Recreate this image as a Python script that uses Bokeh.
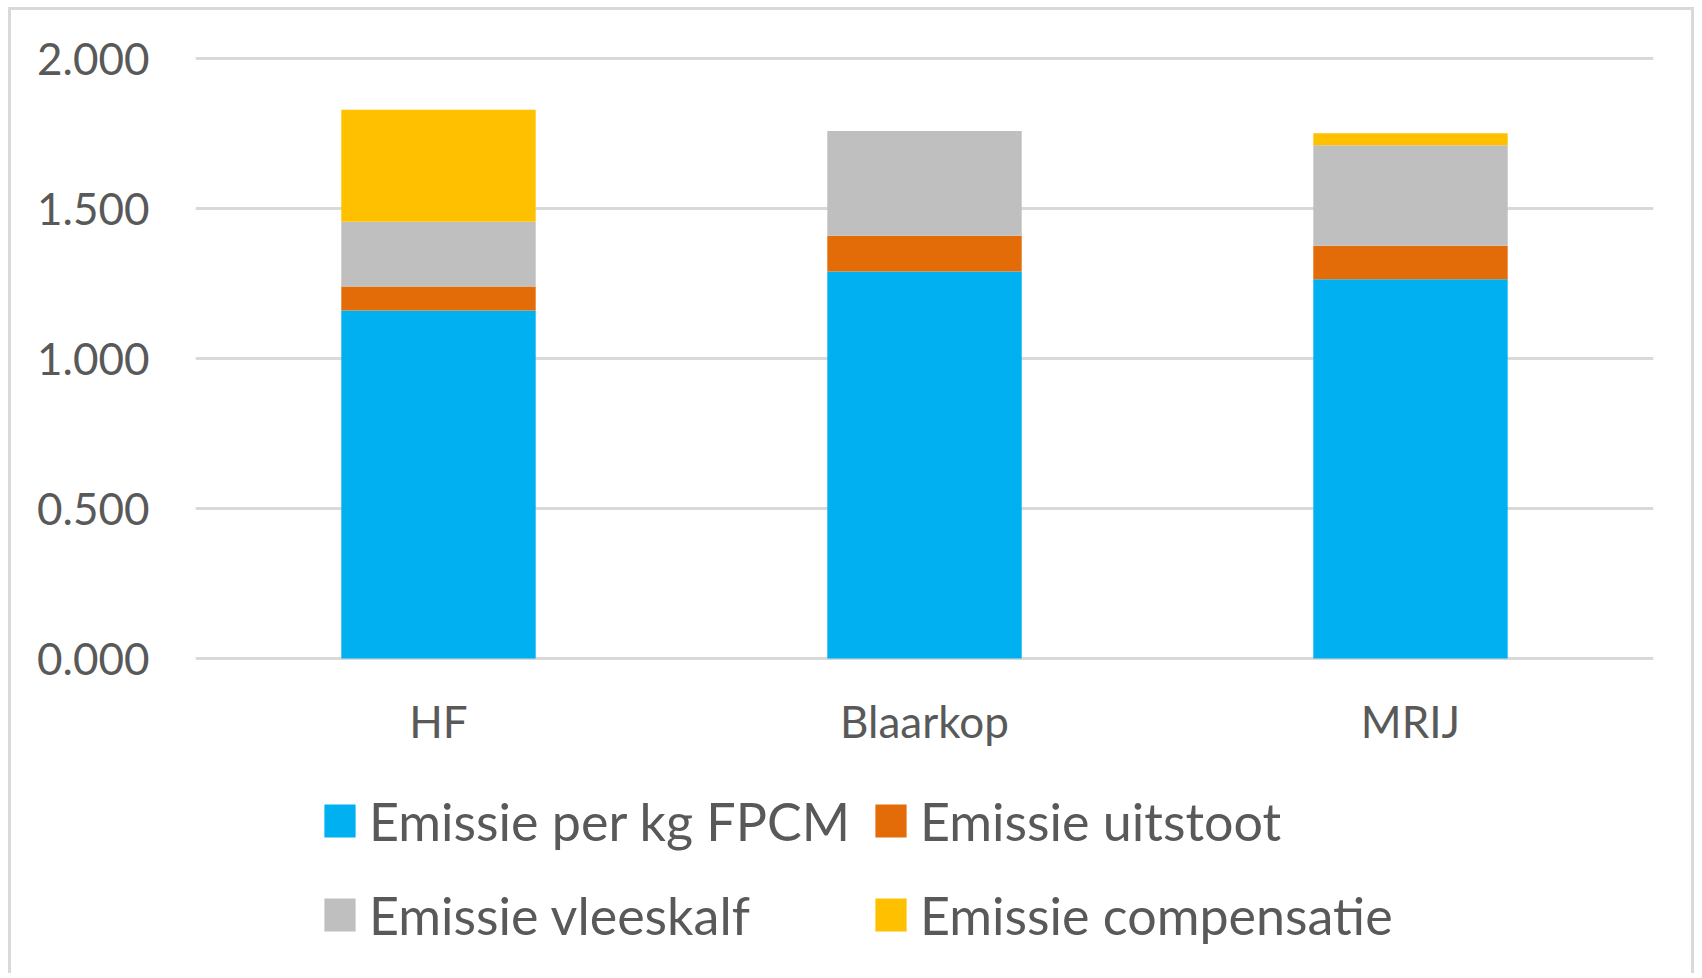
from bokeh.plotting import figure
from bokeh.models import (ColumnDataSource, Range1d, FixedTicker, NumeralTickFormatter,
                          Legend, LegendItem)
from bokeh.core.properties import value
from bokeh.embed import file_html
from bokeh.resources import INLINE

categories = ["HF", "Blaarkop", "MRIJ"]
emissie_fpcm = [1.160, 1.290, 1.264]
emissie_uitstoot = [0.080, 0.119, 0.112]
emissie_vleeskalf = [0.216, 0.349, 0.335]
emissie_compensatie = [0.373, 0.000, 0.040]
series_labels = ["Emissie per kg FPCM", "Emissie uitstoot",
                 "Emissie vleeskalf", "Emissie compensatie"]
y_ticks = [0.0, 0.5, 1.0, 1.5, 2.0]

colors = ["#00B0F0", "#E36C09", "#BFBFBF", "#FFC000"]
keys = ["fpcm", "uitstoot", "vleeskalf", "compensatie"]

source = ColumnDataSource(dict(cat=categories, fpcm=emissie_fpcm,
                               uitstoot=emissie_uitstoot,
                               vleeskalf=emissie_vleeskalf,
                               compensatie=emissie_compensatie))

FONT = "Lato"
TXT = "#595959"
PX_PER_UNIT = 300.0

p = figure(x_range=categories, y_range=Range1d(-1.06, 2.01),
           width=1686, height=966, output_backend="svg", toolbar_location=None,
           min_border_left=184, min_border_right=44, min_border_top=45,
           min_border_bottom=0)
p.x_range.range_padding = 0
p.styles = {"border-left": "3px solid #d9d9d9", "border-top": "3px solid #d9d9d9",
            "border-right": "3px solid #d9d9d9",
            "margin-left": "8px", "margin-top": "7px"}
p.outline_line_color = None
p.background_fill_color = "white"
p.border_fill_color = "white"

renderers = p.vbar_stack(keys, x="cat", width=0.4, color=colors, line_color=None,
                         source=source)

p.xaxis.visible = False
p.xgrid.grid_line_color = None
p.ygrid.grid_line_color = "#D9D9D9"
p.ygrid.grid_line_width = 3

p.yaxis.ticker = FixedTicker(ticks=y_ticks)
p.yaxis.formatter = NumeralTickFormatter(format="0.000")
ax = p.yaxis[0]
ax.axis_line_color = None
ax.major_tick_line_color = None
ax.minor_tick_line_color = None
ax.major_label_text_font = FONT
ax.major_label_text_color = TXT
ax.major_label_text_font_size = "44px"
ax.major_label_standoff = 40

# category labels under the bars (baseline 62px below the zero line)
label_y = -62.0 / PX_PER_UNIT
p.text(x=categories, y=[label_y] * len(categories), text=categories,
       text_align="center", text_baseline="alphabetic",
       text_font=value(FONT), text_font_size="44px", text_color=TXT)

items = [LegendItem(label=lab, renderers=[r]) for lab, r in zip(series_labels, renderers)]
legend = Legend(items=items, location=(125, 25), orientation="horizontal", ncols=2,
                glyph_width=39, glyph_height=41, label_standoff=10, label_height=73,
                spacing=21, padding=0, margin=0,
                label_text_font=FONT, label_text_font_size="52px",
                label_text_color=TXT, border_line_color=None,
                background_fill_alpha=0)
p.add_layout(legend, "center")

open("out.html", "w").write(file_html(p, INLINE))
